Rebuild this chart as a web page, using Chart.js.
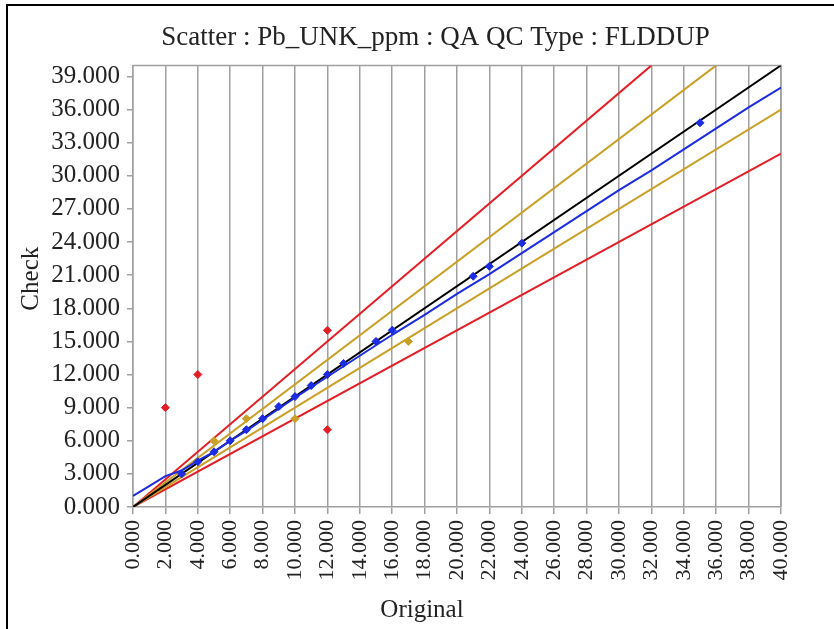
<!DOCTYPE html>
<html>
<head>
<meta charset="utf-8">
<script src="https://cdn.jsdelivr.net/npm/chart.js@4"></script>
<style>
  html, body { margin: 0; padding: 0; background: #fff; }
  #wrap { position: relative; width: 834px; height: 629px; }
  #frame { position: absolute; left: 6px; top: 4px; right: 0; bottom: 0;
           border-left: 2px solid #000; border-top: 2px solid #000; pointer-events: none; }
</style>
</head>
<body>
<div id="wrap">
  <canvas id="qaqcChart" width="834" height="629"></canvas>
  <div id="frame"></div>
</div>
<script>
// duplicate pairs, coloured by how far check is from original
const blueX = [3, 4, 5, 6, 7, 8, 9, 10, 11, 12, 13, 15, 16, 21, 22, 24, 35];
const blueY = [3, 4.1, 5, 6, 7, 8, 9.1, 10, 11, 12, 13, 15, 16, 20.9, 21.8, 23.9, 34.8];
const orangeX = [5, 7, 10, 17];
const orangeY = [6, 8, 8, 15];
const redX = [2, 4, 12, 12];
const redY = [9, 12, 16, 7];

// fitted trend (blue line)
const fitX = [0, 1, 2, 3, 4, 5, 6, 7, 8, 9, 10, 12, 14, 16, 18, 20, 22, 24, 26, 28, 30, 32, 34, 36, 38, 40];
const fitY = [1.0, 1.9, 2.8, 3.3, 4.2, 5.0, 6.0, 6.9, 7.9, 8.9, 9.9, 11.8, 13.7, 15.6, 17.4, 19.3, 21.1, 23.0, 24.9, 26.8, 28.7, 30.5, 32.4, 34.3, 36.2, 38.0];

// reference lines: 1:1, +-10 %, +-20 %
const oneX = [0, 40], oneY = [0, 40];
const hi10X = [0, 36], hi10Y = [0, 40];
const lo10X = [0, 40], lo10Y = [0, 36];
const hi20X = [0, 32], hi20Y = [0, 40];
const lo20X = [0, 40], lo20Y = [0, 32];

const axisMin = 0, axisMax = 40, xStep = 2, yStep = 3;

const pts = (xs, ys) => xs.map((x, i) => ({ x: x, y: ys[i] }));

const RED = '#e41e26', GOLD = '#c99f25', BLUE = '#1c2ce0', GRID = '#a0a0a0';
const FONT = "'Liberation Serif', 'Times New Roman', serif";

function markers(label, xs, ys, color) {
  return { label: label, data: pts(xs, ys), pointStyle: 'rectRot', pointRadius: 4,
           backgroundColor: color, borderColor: color, borderWidth: 1, showLine: false };
}
function line(label, xs, ys, color) {
  return { label: label, data: pts(xs, ys), showLine: true, pointRadius: 0,
           borderColor: color, borderWidth: 2, fill: false };
}

const plotFrame = {
  id: 'plotFrame',
  beforeDatasetsDraw(chart) {
    const { ctx, chartArea: a } = chart;
    ctx.save();
    ctx.strokeStyle = GRID;
    ctx.lineWidth = 1.5;
    ctx.beginPath();
    ctx.moveTo(a.left, a.top);
    ctx.lineTo(a.right, a.top);
    ctx.lineTo(a.right, a.bottom);
    ctx.stroke();
    ctx.restore();
  }
};

// the source centres its titles a little off the plot centre
const titleShift = {
  id: 'titleShift',
  afterLayout(chart) {
    chart.titleBlock.left += 76;
    const sx = chart.scales.x, sy = chart.scales.y;
    if (!sx._shifted) {
      const dx = sx.drawTitle.bind(sx);
      sx.drawTitle = function () { const l = this.left; this.left = l - 70; dx(); this.left = l; };
      sx._shifted = true;
    }
    if (!sy._shifted) {
      const dy = sy.drawTitle.bind(sy);
      sy.drawTitle = function () { const b = this.bottom; this.bottom = b - 15; dy(); this.bottom = b; };
      sy._shifted = true;
    }
  }
};

new Chart(document.getElementById('qaqcChart').getContext('2d'), {
  type: 'scatter',
  data: {
    datasets: [
      markers('Within 10%', blueX, blueY, BLUE),
      markers('10-20%', orangeX, orangeY, GOLD),
      markers('Over 20%', redX, redY, RED),
      line('Trend', fitX, fitY, BLUE),
      line('1:1', oneX, oneY, '#000'),
      line('+10%', hi10X, hi10Y, GOLD),
      line('-10%', lo10X, lo10Y, GOLD),
      line('+20%', hi20X, hi20Y, RED),
      line('-20%', lo20X, lo20Y, RED)
    ]
  },
  plugins: [plotFrame, titleShift],
  options: {
    responsive: false,
    animation: false,
    layout: { padding: { left: 14, right: 53, top: 0, bottom: 4 } },
    plugins: {
      legend: { display: false },
      tooltip: { enabled: false },
      title: {
        display: true,
        text: 'Scatter : Pb_UNK_ppm : QA QC Type : FLDDUP',
        color: '#222',
        font: { family: FONT, size: 27, weight: 'normal' },
        padding: { top: 22, bottom: 11 }
      }
    },
    scales: {
      x: {
        type: 'linear',
        min: axisMin, max: axisMax,
        afterFit(scale) { scale.height = 118; },
        ticks: {
          stepSize: xStep,
          maxRotation: 90, minRotation: 90,
          padding: 6,
          color: '#222',
          font: { family: FONT, size: 22 },
          callback: v => v.toFixed(3)
        },
        grid: { color: GRID, lineWidth: 1.5, tickLength: 7, tickColor: GRID },
        border: { color: GRID, width: 1.5 },
        title: { display: true, text: 'Original', color: '#222',
                 font: { family: FONT, size: 25 }, padding: { top: 0, bottom: 0 } }
      },
      y: {
        type: 'linear',
        min: axisMin, max: axisMax,
        afterFit(scale) { scale.width = 119; },
        ticks: {
          stepSize: yStep,
          includeBounds: false,
          padding: 7,
          color: '#222',
          font: { family: FONT, size: 25 },
          callback: v => v.toFixed(3)
        },
        grid: { drawOnChartArea: false, color: GRID, lineWidth: 1.5, tickLength: 6, tickColor: GRID },
        border: { color: GRID, width: 1.5 },
        title: { display: true, text: 'Check', color: '#222',
                 font: { family: FONT, size: 25 }, padding: { top: 2, bottom: 0 } }
      }
    }
  }
});
</script>
</body>
</html>
